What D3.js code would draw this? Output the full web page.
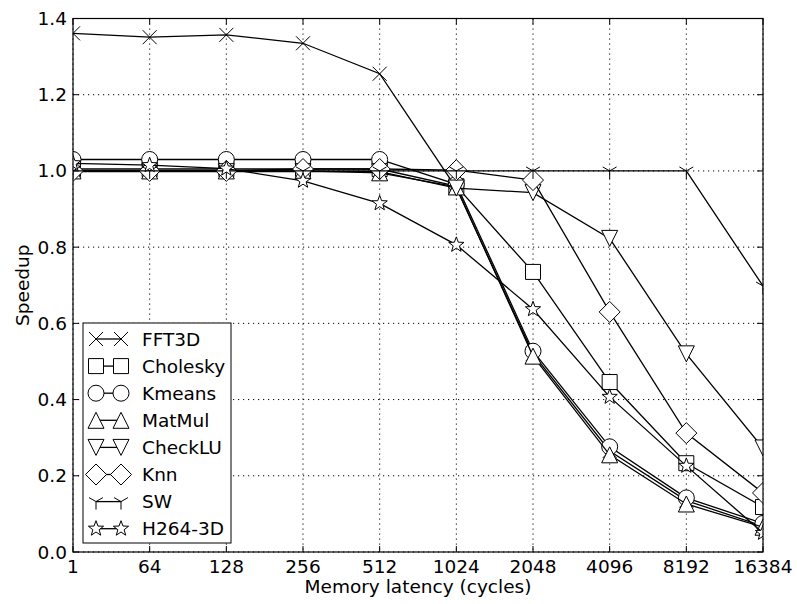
<!DOCTYPE html>
<html>
<head>
<meta charset="utf-8">
<script src="https://cdn.jsdelivr.net/npm/d3@7"></script>
<style>
  body { margin: 0; background: #fff; }
  text { font-family: "DejaVu Sans", sans-serif; fill: #000; }
</style>
</head>
<body>
<svg id="chart" width="797" height="604"></svg>
<script>
// x categories (memory latency in cycles)
var latency = ["1", "64", "128", "256", "512", "1024", "2048", "4096", "8192", "16384"];
var yTicks = [0.0, 0.2, 0.4, 0.6, 0.8, 1.0, 1.2, 1.4];

// speedup values, one array per benchmark
var fft3d    = [1.361, 1.351, 1.357, 1.335, 1.255, 0.955, 0.520, 0.265, 0.135, 0.068];
var cholesky = [1.005, 1.005, 1.005, 1.005, 1.005, 0.960, 0.735, 0.446, 0.233, 0.118];
var kmeans   = [1.030, 1.030, 1.030, 1.030, 1.030, 0.965, 0.527, 0.276, 0.142, 0.075];
var matmul   = [1.000, 1.000, 1.000, 1.000, 0.995, 0.958, 0.514, 0.255, 0.126, 0.065];
var checklu  = [0.998, 0.998, 0.998, 0.998, 0.998, 0.955, 0.943, 0.823, 0.520, 0.273];
var knn      = [1.000, 1.000, 1.000, 1.005, 1.005, 1.002, 0.976, 0.630, 0.312, 0.155];
var sw       = [1.000, 1.000, 1.000, 1.000, 1.000, 1.000, 1.000, 1.000, 1.000, 0.698];
var h264     = [1.020, 1.015, 1.006, 0.974, 0.915, 0.806, 0.637, 0.407, 0.226, 0.050];

var seriesNames = ["FFT3D", "Cholesky", "Kmeans", "MatMul", "CheckLU", "Knn", "SW", "H264-3D"];
var seriesData = [fft3d, cholesky, kmeans, matmul, checklu, knn, sw, h264];
var seriesMarkers = ["x", "square", "circle", "triUp", "triDown", "diamond", "tri_down", "star"];

var margin = {left: 73, right: 34, top: 18.5, bottom: 52};
var width = 797, height = 604;
var plotW = width - margin.left - margin.right;
var plotH = height - margin.top - margin.bottom;
var fontSize = "18.5px";

var svg = d3.select("#chart");

var x = d3.scalePoint().domain(latency).range([0, plotW]).padding(0);
var y = d3.scaleLinear().domain([0, 1.4]).range([plotH, 0]);

// marker path builder
function markerPath(type) {
    var p = d3.path();
    if (type == "x") {
        var r = 7;
        p.moveTo(-r, -r); p.lineTo(r, r);
        p.moveTo(-r, r); p.lineTo(r, -r);
    } else if (type == "square") {
        var s = 7.5;
        p.rect(-s, -s, 2 * s, 2 * s);
    } else if (type == "circle") {
        p.moveTo(8, 0);
        p.arc(0, 0, 8, 0, 2 * Math.PI);
    } else if (type == "triUp") {
        var t = 8;
        p.moveTo(0, -t); p.lineTo(-t, t); p.lineTo(t, t); p.closePath();
    } else if (type == "triDown") {
        var t2 = 8;
        p.moveTo(0, t2); p.lineTo(-t2, -t2); p.lineTo(t2, -t2); p.closePath();
    } else if (type == "diamond") {
        var d = 10.5;
        p.moveTo(0, -d); p.lineTo(d, 0); p.lineTo(0, d); p.lineTo(-d, 0); p.closePath();
    } else if (type == "tri_down") {
        var q = 8;
        p.moveTo(0, 0); p.lineTo(0, q);
        p.moveTo(0, 0); p.lineTo(-q * 0.866, -q * 0.5);
        p.moveTo(0, 0); p.lineTo(q * 0.866, -q * 0.5);
    } else if (type == "star") {
        var ro = 8, ri = 3.3;
        for (var k = 0; k < 10; k++) {
            var rr = (k % 2 == 0) ? ro : ri;
            var a = -Math.PI / 2 + k * Math.PI / 5;
            if (k == 0) p.moveTo(rr * Math.cos(a), rr * Math.sin(a));
            else p.lineTo(rr * Math.cos(a), rr * Math.sin(a));
        }
        p.closePath();
    }
    return p.toString();
}

svg.append("defs").append("clipPath").attr("id", "plotclip")
    .append("rect").attr("x", 0).attr("y", 0).attr("width", plotW).attr("height", plotH);

var g = svg.append("g").attr("transform", "translate(" + margin.left + "," + margin.top + ")");

// grid
var grid = g.append("g");
grid.selectAll("line.vx")
    .data(latency)
    .enter()
    .append("line")
    .attr("x1", function (d) { return x(d); })
    .attr("x2", function (d) { return x(d); })
    .attr("y1", 0).attr("y2", plotH)
    .attr("stroke", "#000").attr("stroke-width", 1)
    .attr("stroke-dasharray", "1.2,3.8");
grid.selectAll("line.hy")
    .data(yTicks)
    .enter()
    .append("line")
    .attr("x1", 0).attr("x2", plotW)
    .attr("y1", function (d) { return y(d); })
    .attr("y2", function (d) { return y(d); })
    .attr("stroke", "#000").attr("stroke-width", 1)
    .attr("stroke-dasharray", "1.2,3.8");

// series
var plot = g.append("g").attr("clip-path", "url(#plotclip)");
var line = d3.line()
    .x(function (d, i) { return x(latency[i]); })
    .y(function (d) { return y(d); });

for (var s = 0; s < seriesData.length; s++) {
    var sg = plot.append("g");
    sg.append("path")
        .attr("d", line(seriesData[s]))
        .attr("fill", "none")
        .attr("stroke", "#000")
        .attr("stroke-width", 1.3);
    var mk = seriesMarkers[s];
    var open = (mk == "x" || mk == "tri_down");
    sg.selectAll("path.m")
        .data(seriesData[s])
        .enter()
        .append("path")
        .attr("class", "m")
        .attr("d", markerPath(mk))
        .attr("transform", function (d, i) {
            return "translate(" + x(latency[i]) + "," + y(d) + ")";
        })
        .attr("fill", open ? "none" : "#fff")
        .attr("stroke", "#000")
        .attr("stroke-width", 1);
}

// frame
g.append("rect")
    .attr("x", 0).attr("y", 0).attr("width", plotW).attr("height", plotH)
    .attr("fill", "none").attr("stroke", "#000").attr("stroke-width", 1.2);

// ticks on all four sides, pointing inward
var tickLen = 6;
var ticks = g.append("g").attr("stroke", "#000").attr("stroke-width", 1);
latency.forEach(function (d) {
    ticks.append("line").attr("x1", x(d)).attr("x2", x(d)).attr("y1", plotH).attr("y2", plotH - tickLen);
    ticks.append("line").attr("x1", x(d)).attr("x2", x(d)).attr("y1", 0).attr("y2", tickLen);
});
yTicks.forEach(function (d) {
    ticks.append("line").attr("x1", 0).attr("x2", tickLen).attr("y1", y(d)).attr("y2", y(d));
    ticks.append("line").attr("x1", plotW).attr("x2", plotW - tickLen).attr("y1", y(d)).attr("y2", y(d));
});

// tick labels
g.selectAll("text.xl")
    .data(latency)
    .enter()
    .append("text")
    .attr("x", function (d) { return x(d); })
    .attr("y", plotH + 20.5)
    .attr("text-anchor", "middle")
    .style("font-size", fontSize)
    .text(function (d) { return d; });
g.selectAll("text.yl")
    .data(yTicks)
    .enter()
    .append("text")
    .attr("x", -6)
    .attr("y", function (d) { return y(d) + 6.5; })
    .attr("text-anchor", "end")
    .style("font-size", fontSize)
    .text(function (d) { return d.toFixed(1); });

// axis titles
svg.append("text")
    .attr("x", margin.left + plotW / 2)
    .attr("y", 593)
    .attr("text-anchor", "middle")
    .style("font-size", fontSize)
    .text("Memory latency (cycles)");
svg.append("text")
    .attr("transform", "translate(29," + (margin.top + plotH / 2) + ") rotate(-90)")
    .attr("text-anchor", "middle")
    .style("font-size", fontSize)
    .text("Speedup");

// legend
var legend = svg.append("g").attr("transform", "translate(83,323)");
legend.append("rect")
    .attr("x", 0).attr("y", 0).attr("width", 148).attr("height", 220)
    .attr("fill", "#fff").attr("stroke", "#000").attr("stroke-width", 1);
var rowH = 27.1;
seriesNames.forEach(function (name, i) {
    var ry = 16 + i * rowH;
    var row = legend.append("g").attr("transform", "translate(0," + ry + ")");
    row.append("line").attr("x1", 13).attr("x2", 38).attr("y1", 0).attr("y2", 0)
        .attr("stroke", "#000").attr("stroke-width", 1.3);
    var mk = seriesMarkers[i];
    var open = (mk == "x" || mk == "tri_down");
    [13, 38].forEach(function (mx) {
        row.append("path")
            .attr("d", markerPath(mk))
            .attr("transform", "translate(" + mx + ",0)")
            .attr("fill", open ? "none" : "#fff")
            .attr("stroke", "#000").attr("stroke-width", 1);
    });
    row.append("text")
        .attr("x", 59).attr("y", 6.5)
        .style("font-size", fontSize)
        .text(name);
});
</script>
</body>
</html>
